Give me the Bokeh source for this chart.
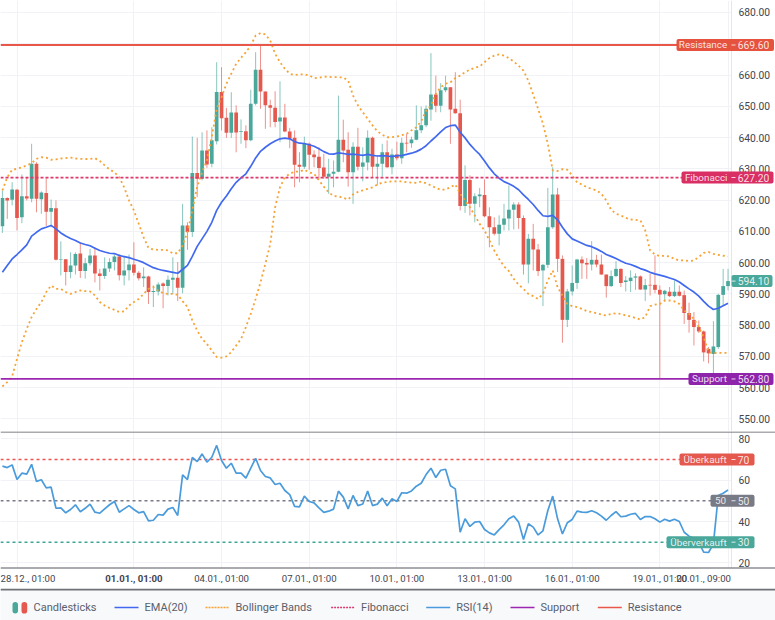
from bokeh.plotting import figure
from bokeh.layouts import column
from bokeh.core.properties import value
from bokeh.models import BoxAnnotation, Label, FixedTicker, Range1d, LinearAxis, NumeralTickFormatter, Grid
from bokeh.embed import file_html
from bokeh.resources import INLINE

OPEN = [611.6,620.7,620.1,623.3,614.5,621.2,620.4,631.6,620.3,622.3,
616.3,617.4,601.0,601.1,597.0,599.1,602.9,597.3,599.8,602.3,
596.5,595.7,598.1,600.2,602.0,595.9,597.6,599.4,596.8,595.0,
595.6,590.6,590.8,593.3,592.5,594.5,595.2,592.0,611.9,609.8,
628.7,626.8,635.9,631.6,638.8,654.6,646.3,641.5,648.0,641.8,
642.0,639.1,650.8,661.7,654.7,650.3,649.5,645.1,646.4,641.9,
639.9,631.3,630.7,638.0,634.6,633.9,630.4,627.5,628.4,629.1,
639.3,636.1,628.9,637.1,630.7,632.0,639.9,630.7,631.6,635.3,
630.5,634.6,633.4,638.3,638.2,639.3,642.3,643.9,649.0,653.8,
650.2,655.1,656.1,649.2,647.8,618.1,626.4,618.8,621.2,621.6,
614.8,611.3,609.2,612.1,614.1,616.9,618.6,614.3,599.4,607.6,
604.2,597.5,599.3,611.3,621.8,601.2,581.7,590.8,593.5,601.0,
599.9,599.4,600.9,599.4,596.2,592.5,595.7,598.0,593.8,594.1,
595.2,595.6,591.4,592.9,592.9,591.3,589.9,590.7,589.3,590.7,
589.6,583.9,581.7,579.4,578.0,572.4,570.8,573.0,589.7,592.5]

CLOSE = [620.7,619.9,623.4,614.3,621.2,620.5,631.6,620.4,622.4,616.3,
617.5,600.9,601.2,597.0,599.1,602.8,597.3,599.8,602.3,596.5,
595.7,598.1,600.2,602.0,596.0,597.5,599.4,596.8,595.0,595.6,
590.6,590.9,593.0,592.5,594.5,595.2,592.0,611.9,609.8,628.7,
626.8,635.9,631.4,639.1,654.6,646.2,641.5,648.0,641.6,642.0,
639.1,650.8,661.7,654.7,650.3,649.5,645.0,646.4,641.9,639.6,
631.3,630.7,638.0,634.5,633.7,630.3,627.5,628.4,629.1,639.3,
635.9,628.9,637.1,630.7,632.0,639.9,630.7,631.6,635.3,630.5,
634.6,633.4,638.3,638.1,639.4,642.3,643.9,649.2,653.8,650.2,
655.1,656.1,649.0,647.8,618.1,626.4,618.8,621.2,621.8,614.8,
611.3,609.2,612.1,614.1,616.9,618.6,614.3,599.4,607.6,604.2,
597.3,599.3,611.3,621.8,601.2,581.7,590.8,593.5,601.0,599.8,
599.4,600.9,599.4,596.2,592.5,595.7,598.0,593.5,594.3,595.2,
595.6,591.4,592.8,592.7,591.3,589.8,591.0,589.3,590.7,589.4,
583.9,581.7,579.4,578.0,571.3,571.0,573.2,589.7,592.5,594.1]

HIGH = [623.1,620.9,625.7,623.6,628.2,627.3,638.0,632.1,622.8,627.0,
620.2,619.9,606.8,601.1,603.3,603.3,606.5,601.5,604.4,604.9,
598.0,601.7,601.4,602.6,602.6,602.3,602.6,606.5,597.3,598.5,
595.8,592.7,593.7,593.7,595.9,601.7,600.2,618.8,612.9,640.3,
639.9,641.7,642.3,643.3,664.1,662.5,649.5,654.5,650.3,645.8,
643.9,655.3,667.3,669.4,654.7,652.1,654.8,658.0,650.8,643.1,
642.3,635.3,640.3,638.4,635.9,636.9,634.8,633.2,632.7,653.4,
645.7,641.7,638.5,643.1,636.9,642.3,640.3,634.3,638.0,639.1,
636.4,638.7,639.9,641.2,640.3,650.3,649.9,650.3,667.0,659.8,
657.4,659.8,656.1,660.9,652.1,631.1,627.9,622.2,623.9,626.6,
617.7,614.5,615.1,618.8,624.7,619.3,619.3,615.1,609.2,612.4,
606.0,599.6,623.9,630.5,623.9,602.3,591.6,599.1,601.2,602.0,
601.5,606.9,602.5,602.6,596.2,597.5,600.5,598.2,595.7,597.5,
596.6,595.9,594.8,596.4,602.3,592.7,591.3,592.2,594.3,592.7,
591.1,587.2,584.2,581.5,578.3,573.0,581.3,590.0,598.0,598.0]

LOW = [609.5,614.0,618.3,610.3,612.6,619.9,619.3,616.1,615.6,611.7,
611.3,600.7,595.9,592.7,595.0,596.2,595.1,594.9,599.1,593.7,
591.1,594.8,597.0,597.5,594.3,592.7,594.3,595.9,594.3,592.2,
586.8,585.8,589.5,585.4,589.5,590.0,587.7,590.2,604.1,608.2,
620.9,626.3,630.3,630.5,637.8,642.3,639.9,639.9,635.3,638.0,
636.6,638.8,650.3,649.2,642.8,643.3,643.3,638.5,641.7,636.6,
624.1,625.7,630.0,629.7,630.5,626.8,626.8,622.0,624.1,628.9,
632.1,624.3,618.8,629.5,626.0,629.5,627.3,624.7,627.5,630.3,
628.2,632.7,631.6,635.3,636.7,639.1,641.4,643.3,645.4,648.1,
648.1,654.5,638.0,647.6,616.7,615.9,615.1,612.9,617.7,614.5,
604.9,608.7,605.5,610.3,610.3,610.6,610.8,596.2,593.4,597.5,
595.7,586.1,598.3,610.8,597.0,574.4,579.4,589.5,591.6,594.8,
594.8,597.5,598.5,596.1,588.8,592.2,595.4,592.2,590.8,590.6,
591.3,591.3,587.7,589.5,590.2,562.8,587.6,589.0,589.0,589.2,
580.4,577.6,573.5,577.5,568.4,567.8,564.4,572.4,586.3,591.1]

EMA20 = [596.9,599.1,601.2,602.6,604.1,605.7,608.5,609.7,610.8,611.3,
611.9,610.8,609.5,608.5,607.7,607.1,606.3,605.8,605.4,604.6,
603.9,603.4,603.0,602.9,602.3,601.9,601.6,601.1,600.6,600.0,
599.2,598.4,597.9,597.5,597.2,596.9,596.6,597.8,599.1,602.0,
605.2,607.6,610.0,612.9,616.7,619.3,621.3,623.6,625.7,627.1,
628.4,630.8,633.5,635.6,636.9,638.0,638.9,639.6,639.8,639.6,
638.7,638.2,638.1,637.7,637.2,636.4,635.5,634.8,634.7,635.1,
634.9,634.6,634.7,634.5,634.3,634.6,634.3,634.1,634.2,634.1,
633.9,634.2,634.2,634.6,635.0,635.5,636.3,637.4,638.9,640.3,
641.8,643.2,643.8,644.0,641.7,639.9,637.8,636.1,634.6,632.5,
630.3,628.4,627.0,625.9,625.2,624.4,623.3,621.7,620.2,618.6,
616.7,615.0,614.8,615.1,613.7,611.3,609.2,607.6,606.9,606.2,
605.5,605.1,604.4,603.6,602.6,602.0,601.3,600.5,599.8,599.4,
598.8,598.1,597.6,596.9,596.4,596.0,595.6,595.1,594.6,593.8,
592.7,591.6,590.6,589.3,587.6,586.1,585.0,585.4,586.2,587.0]

BB_UPPER = [623.1,627.3,629.7,630.0,630.5,631.1,631.8,633.2,633.7,633.6,
632.9,633.0,633.3,633.4,633.6,633.3,633.2,633.1,633.2,633.4,
632.5,631.1,629.8,628.9,627.3,624.1,619.9,616.7,612.4,608.1,
604.7,604.2,604.1,604.1,603.9,603.0,603.0,605.5,609.7,616.7,
624.3,628.9,632.7,640.1,649.2,652.9,657.2,660.4,663.6,665.5,
667.3,669.4,672.6,673.4,673.0,671.0,666.8,664.1,662.0,660.4,
660.0,660.2,660.2,659.9,659.0,659.1,659.5,659.4,659.3,659.3,
659.2,658.2,653.4,650.3,648.1,646.0,643.9,642.0,640.9,640.1,
640.1,640.3,640.8,641.2,642.3,643.3,645.2,648.6,650.3,654.0,
656.1,657.2,657.7,659.0,659.8,660.9,661.7,662.3,662.7,664.1,
665.4,666.2,666.6,666.2,665.4,664.3,663.0,661.4,658.2,653.7,
649.2,644.4,638.0,629.5,629.3,629.9,629.7,627.9,625.7,625.0,
624.1,623.6,623.1,622.0,619.9,616.9,615.6,615.1,614.3,613.8,
613.7,613.5,610.3,603.9,602.6,602.1,602.2,602.0,601.2,600.7,
600.7,600.5,600.7,601.8,603.1,603.4,602.8,602.5,602.2,602.0]

BB_LOWER = [560.4,561.8,563.6,569.2,574.6,578.8,582.6,585.2,587.4,590.6,
592.7,591.6,591.6,590.6,590.0,590.6,591.1,590.9,590.8,589.5,
587.4,586.3,585.5,584.9,584.2,584.4,586.3,587.4,588.4,590.0,
591.6,592.2,591.1,590.2,590.0,590.0,589.7,587.7,585.8,581.5,
578.3,575.6,574.0,571.9,569.8,569.6,570.0,571.4,573.5,575.6,
579.4,583.6,588.4,593.7,599.6,606.0,617.7,624.1,627.3,628.4,
629.1,629.1,629.7,628.9,628.4,626.3,624.3,622.5,621.3,621.2,
620.7,620.2,621.8,622.6,623.1,623.6,624.1,625.0,625.6,625.8,
626.0,626.0,626.0,625.7,625.6,625.5,625.9,625.4,624.7,623.9,
623.3,623.4,624.1,625.0,622.0,619.9,617.7,615.1,612.4,610.3,
607.1,603.9,601.2,598.8,597.3,594.8,593.0,591.6,590.0,589.3,
588.4,590.0,594.3,597.5,592.2,589.5,586.8,586.1,585.8,585.2,
584.5,584.2,583.8,583.4,583.1,583.6,583.8,583.6,583.1,582.8,
582.3,581.8,582.6,586.1,586.6,586.8,587.9,587.9,587.6,586.8,
584.7,583.6,582.0,579.4,576.2,571.4,571.1,571.1,571.2,571.1]

RSI14 = [66.8,66.1,67.4,60.3,63.4,62.9,67.7,59.4,60.2,56.3,
56.6,46.4,46.6,44.2,45.8,48.1,44.7,46.4,48.4,44.5,
44.0,46.1,48.1,49.7,44.5,46.1,47.7,45.8,44.2,44.8,
40.3,40.6,43.4,43.1,46.0,46.8,42.9,62.6,60.3,71.0,
69.0,72.7,68.7,71.1,76.8,69.5,65.8,68.2,63.4,63.4,
61.0,65.8,70.6,64.7,61.8,61.1,57.9,58.5,55.0,53.0,
47.3,47.1,52.3,49.7,49.0,46.6,44.4,45.0,46.0,54.7,
51.8,46.1,52.6,47.7,48.5,54.7,47.7,48.4,51.3,47.6,
51.0,49.7,53.9,53.7,54.8,57.1,58.5,62.7,65.8,61.3,
64.8,65.3,57.3,55.8,34.8,41.3,37.6,39.7,40.0,36.1,
34.5,33.5,36.1,38.4,41.3,42.7,39.7,31.3,38.9,37.3,
33.5,35.5,45.3,52.3,41.3,34.0,39.4,41.0,45.0,44.5,
44.4,45.2,44.2,42.6,40.6,42.9,44.8,42.3,42.6,43.5,
43.9,41.0,42.4,42.4,41.3,39.7,41.1,40.2,41.1,40.0,
34.8,32.9,31.9,29.8,25.2,25.0,29.2,52.6,53.7,55.2]

for s in (OPEN, CLOSE, HIGH, LOW, EMA20, BB_UPPER, BB_LOWER, RSI14):
    assert len(s) == 150, len(s)

IDX = list(range(150))
TIME_TICK_IDX = [3, 27, 45, 63, 81, 99, 117, 135, 149]
TIME_TICK_LABELS = ["28.12., 01:00", "01.01., 01:00", "04.01., 01:00", "07.01., 01:00", "10.01., 01:00",
                    "13.01., 01:00", "16.01., 01:00", "19.01., 01:00", "20.01., 09:00"]
PRICE_TICKS = [550, 560, 570, 580, 590, 600, 610, 620, 630, 640, 650, 660, 670, 680]
RSI_TICKS = [20, 40, 60, 80]
RESISTANCE = 669.60
FIBONACCI = 627.20
SUPPORT = 562.80
LAST_PRICE = 594.10
OVERBOUGHT = 70
MIDLINE = 50
OVERSOLD = 30
LEGEND_NAMES = ["EMA(20)", "Bollinger Bands", "Fibonacci", "RSI(14)", "Support", "Resistance"]

TEAL = "#4aa89b"
RED = "#e4584e"
GRID = "#f0f2f5"
FONT = "Roboto"
TXT = "#3f444f"
TICK_SIZE = "10.3px"
TIME_SIZE = "9.6px"
BADGE_SIZE = "9.9px"
X_START, X_AXIS, X_END = -0.39, 149.71, 158.75
PLOT_RIGHT = 731

up = [i for i in IDX if CLOSE[i] >= OPEN[i]]
dn = [i for i in IDX if CLOSE[i] < OPEN[i]]


def base(height, yr):
    f = figure(width=775, height=height, frame_width=775, frame_height=height,
               x_range=Range1d(X_START, X_END), y_range=Range1d(*yr), output_backend="svg",
               toolbar_location=None, min_border=0, outline_line_color=None,
               x_axis_location=None, y_axis_location=None)
    f.xgrid.visible = False
    f.ygrid.visible = False
    return f


def yaxis(f, ticks, fmt, bounds=None):
    ax = LinearAxis(ticker=FixedTicker(ticks=ticks), formatter=NumeralTickFormatter(format=fmt),
                    fixed_location=X_AXIS, axis_line_color="#e4e6eb", major_tick_line_color=None,
                    major_tick_in=0, major_tick_out=0, minor_tick_line_color=None,
                    major_label_text_font=FONT, major_label_text_font_size=TICK_SIZE,
                    major_label_text_color=TXT, major_label_standoff=7)
    if bounds:
        ax.bounds = bounds
    f.add_layout(ax, "right")
    f.add_layout(Grid(dimension=1, axis=ax, grid_line_color=GRID, grid_line_width=1))
    f.add_layout(Grid(dimension=0, ticker=FixedTicker(ticks=TIME_TICK_IDX), grid_line_color=GRID, grid_line_width=1))
    # the grid stops at the axis: white strip right of it
    f.add_layout(BoxAnnotation(left=PLOT_RIGHT, left_units="screen", fill_color="white", fill_alpha=1,
                               line_color=None, level="underlay"))
    return ax


def badge(f, level_value, left, right, color, name, shown, half, name_x, value_x=753):
    f.add_layout(BoxAnnotation(left=left, right=right, left_units="screen", right_units="screen",
                               top=level_value + half, bottom=level_value - half, fill_color=color, fill_alpha=1,
                               line_color=None, border_radius=2, level="overlay"))
    f.add_layout(BoxAnnotation(left=731, right=735, left_units="screen", right_units="screen",
                               top=level_value + half / 12, bottom=level_value - half / 12, fill_color="white",
                               fill_alpha=0.8, line_color=None, level="overlay"))
    if name:
        f.add_layout(Label(x=name_x, y=level_value, x_units="screen", text=name, text_align="center", text_baseline="middle",
                           text_font=FONT, text_font_size=BADGE_SIZE, text_color="white", text_alpha=0.85, level="overlay"))
    f.add_layout(Label(x=value_x, y=level_value, x_units="screen", text=shown, text_align="center", text_baseline="middle",
                       text_font=FONT, text_font_size=TICK_SIZE, text_color="white", text_alpha=0.85, level="overlay"))


# ---------- price pane
price = base(431, (546.0, 683.83))
yaxis(price, PRICE_TICKS, "0.00")
price.segment(up, [LOW[i] for i in up], up, [HIGH[i] for i in up], line_color=TEAL, line_alpha=0.65, line_width=1)
price.segment(dn, [LOW[i] for i in dn], dn, [HIGH[i] for i in dn], line_color=RED, line_alpha=0.65, line_width=1)
price.vbar(up, 0.76, [OPEN[i] for i in up], [CLOSE[i] for i in up], fill_color=TEAL, line_color=None)
price.vbar(dn, 0.76, [OPEN[i] for i in dn], [CLOSE[i] for i in dn], fill_color=RED, line_color=None)
price.line(IDX, BB_UPPER, line_color="#f7a233", line_width=1.8, line_dash=[2, 3])
price.line(IDX, BB_LOWER, line_color="#f7a233", line_width=1.8, line_dash=[2, 3])
price.line(IDX, EMA20, line_color="#4169f0", line_width=1.7)
SPAN = [X_START, X_AXIS]
price.line(SPAN, [FIBONACCI] * 2, line_color="#dc3a6c", line_width=1.7, line_dash=[3, 2])
price.line(SPAN, [SUPPORT] * 2, line_color="#9c27b0", line_width=1.7)
price.line(SPAN, [RESISTANCE] * 2, line_color="#e8574a", line_width=2)
badge(price, RESISTANCE, 676, 773.5, "#e5533f", "Resistance", f"{RESISTANCE:.2f}", 1.92, 702.5)
badge(price, FIBONACCI, 681, 773, "#d92f64", "Fibonacci", f"{FIBONACCI:.2f}", 1.92, 705.7)
badge(price, LAST_PRICE, 731, 772, "#4aa89b", "", f"{LAST_PRICE:.2f}", 1.92, 0)
badge(price, SUPPORT, 688, 773, "#8e24aa", "Support", f"{SUPPORT:.2f}", 1.92, 709)

# ---------- RSI pane with its time strip
RSI_BOTTOM, RSI_LO, RSI_HI = 7.58, 17.74, 83.55
rsi = base(157, (RSI_BOTTOM, RSI_HI))
yaxis(rsi, RSI_TICKS, "0", bounds=(RSI_LO, RSI_HI))
rsi.add_layout(BoxAnnotation(top=RSI_LO, fill_color="white", fill_alpha=1, line_color=None, level="underlay"))
tax = LinearAxis(ticker=FixedTicker(ticks=TIME_TICK_IDX), fixed_location=RSI_LO,
                 major_label_overrides={i: ("" if k in (0, 1, 8) else TIME_TICK_LABELS[k]) for k, i in enumerate(TIME_TICK_IDX)},
                 axis_line_color=None, major_tick_line_color=None, major_tick_in=0, major_tick_out=0,
                 minor_tick_line_color=None, major_label_text_font=FONT, major_label_text_font_size=TIME_SIZE,
                 major_label_text_color=TXT, major_label_standoff=5)
rsi.add_layout(tax, "below")
rsi.line(SPAN, [OVERBOUGHT] * 2, line_color="#ef5350", line_width=1.5, line_dash=[3, 3])
rsi.line(SPAN, [MIDLINE] * 2, line_color="#787b86", line_width=1.5, line_dash=[3, 3])
rsi.line(SPAN, [OVERSOLD] * 2, line_color="#3ea596", line_width=1.5, line_dash=[3, 3])
rsi.line(IDX, RSI14, line_color="#4a9bdc", line_width=1.7)
badge(rsi, OVERBOUGHT, 679, 754, "#e4584e", "Überkauft", str(OVERBOUGHT), 2.9, 704.6, 743)
badge(rsi, MIDLINE, 710, 754, "#787b86", "50", str(MIDLINE), 2.9, 720, 743)
badge(rsi, OVERSOLD, 666, 754, "#4aa89b", "Überverkauft", str(OVERSOLD), 2.9, 698, 743)
for k, off, style in ((0, 11, "normal"), (1, 0, "bold"), (8, -24.5, "normal")):
    rsi.add_layout(Label(x=TIME_TICK_IDX[k], y=RSI_LO, x_offset=off, y_offset=-10.5, text=TIME_TICK_LABELS[k],
                         text_align="center", text_baseline="middle", text_font=FONT, text_font_size=TIME_SIZE,
                         text_font_style=style, text_color=TXT))
rsi.add_layout(BoxAnnotation(left=0, right=775, left_units="screen", right_units="screen",
                             bottom=RSI_HI - 0.5, fill_color="#55585f", fill_alpha=1, line_color=None, level="overlay"))
rsi.add_layout(BoxAnnotation(left=0, right=775, left_units="screen", right_units="screen",
                             top=RSI_LO, bottom=RSI_LO - 0.5, fill_color="#55585f", fill_alpha=1, line_color=None, level="overlay"))

# ---------- legend strip (pixel ranges)
leg = figure(width=775, height=32, frame_width=775, frame_height=32, x_range=Range1d(0, 775), y_range=Range1d(32, 0),
             output_backend="svg", toolbar_location=None, min_border=0, outline_line_color=None,
             x_axis_location=None, y_axis_location=None, background_fill_color="#f8f9fb")
leg.xgrid.visible = False
leg.ygrid.visible = False
leg.quad(left=[0], right=[775], top=[0], bottom=[2], fill_color="#6f7277", line_color=None)
leg.quad(left=[12, 21], right=[17.5, 26.7], top=[13.5, 13.5], bottom=[25, 25], fill_color=[TEAL, RED], line_color=None, border_radius=3)
LEG_X = [114, 205, 330.6, 425.7, 510, 597.3]
LEG_COLORS = ["#4169f0", "#f7a233", "#dc3a6c", "#4a9bdc", "#9c27b0", "#e8574a"]
LEG_DASH = ["solid", [2, 1], [2, 1], "solid", "solid", "solid"]
LEG_W = [1.6, 1.3, 1.3, 1.6, 1.6, 1.6]
for x, c, d, w, n in zip(LEG_X, LEG_COLORS, LEG_DASH, LEG_W, LEGEND_NAMES):
    leg.line([x, x + 24], [19, 19], line_color=c, line_dash=d, line_width=w)
    leg.text([x + 30], [19], text=[n], text_font=value(FONT), text_font_size="11px", text_color="#5a606b", text_baseline="middle")
leg.text([33], [19], text=["Candlesticks"], text_font=value(FONT), text_font_size="11px", text_color="#5a606b", text_baseline="middle")

page = column(price, rsi, leg, spacing=0)
open("out.html", "w").write(file_html(page, INLINE))
